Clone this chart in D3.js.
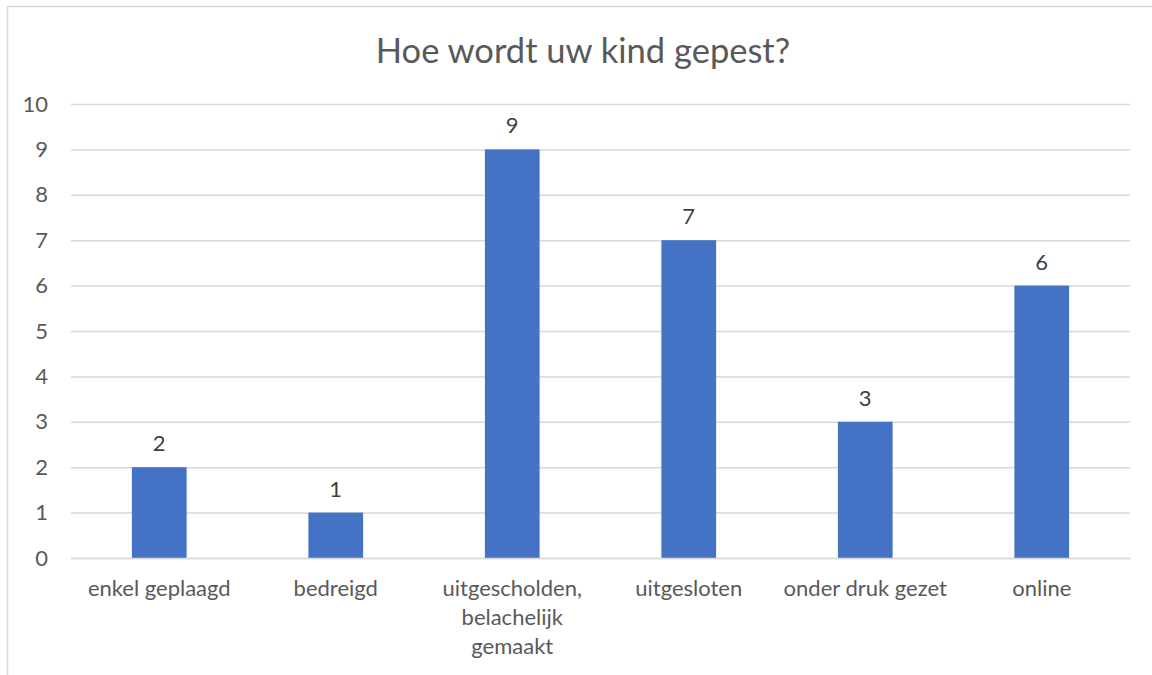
<!DOCTYPE html>
<html><head><meta charset="utf-8">
<script src="https://cdn.jsdelivr.net/npm/d3@7"></script>
<style>body{margin:0;background:#fff;} text{font-family:Lato, "Open Sans", sans-serif;}</style>
</head><body>
<svg id="c" width="1152" height="675"></svg>
<script>
const categories = [["enkel geplaagd"],["bedreigd"],["uitgescholden,","belachelijk","gemaakt"],["uitgesloten"],["onder druk gezet"],["online"]];
const values = [2,1,9,7,3,6];
const yTicks = [0,1,2,3,4,5,6,7,8,9,10];
const title = "Hoe wordt uw kind gepest?";

const svg = d3.select("#c");
const W=1152,H=675;
const m={l:71,r:22,t:104,b:117};
svg.append("rect").attr("x",7.5).attr("y",6.5).attr("width",1200).attr("height",700)
  .attr("fill","#fff").attr("stroke","#d9d9d9").attr("stroke-width",1.5);

const x = d3.scaleBand().domain(d3.range(values.length)).range([m.l, W-m.r]).paddingInner(0.69).paddingOuter(0.345);
const y = d3.scaleLinear().domain([0,10]).range([H-m.b, m.t]);

svg.append("text").attr("x",583).attr("y",63).attr("text-anchor","middle")
  .attr("font-size",34.5).attr("fill","#595959").text(title);

const ga = svg.append("g").attr("transform",`translate(${m.l},0)`)
  .call(d3.axisLeft(y).tickValues(yTicks).tickSize(-(W-m.r-m.l)).tickPadding(23));
ga.select(".domain").remove();
ga.selectAll(".tick line").attr("stroke","#d9d9d9").attr("stroke-width",1.5);
ga.selectAll(".tick text").attr("font-size",22).attr("fill","#595959").attr("font-family","Lato");

svg.append("g").selectAll("rect").data(values).join("rect")
  .attr("x",(d,i)=>x(i)).attr("width",x.bandwidth())
  .attr("y",d=>y(d)).attr("height",d=>y(0)-y(d)).attr("fill","#4472c4");

svg.append("g").selectAll("text").data(values).join("text")
  .attr("x",(d,i)=>x(i)+x.bandwidth()/2).attr("y",d=>y(d)-16)
  .attr("text-anchor","middle").attr("font-size",22).attr("fill","#404040").text(d=>d);

const gx = svg.append("g").attr("transform",`translate(0,${y(0)})`)
  .call(d3.axisBottom(x).tickSize(0).tickFormat(""));
gx.select(".domain").attr("stroke","#d9d9d9").attr("stroke-width",1.5);
gx.selectAll(".tick").each(function(d){
  const t=d3.select(this).append("text").attr("text-anchor","middle").attr("font-size",22).attr("fill","#595959");
  categories[d].forEach((ln,j)=>t.append("tspan").attr("x",0).attr("y",38+j*29).text(ln));
});
</script></body></html>
